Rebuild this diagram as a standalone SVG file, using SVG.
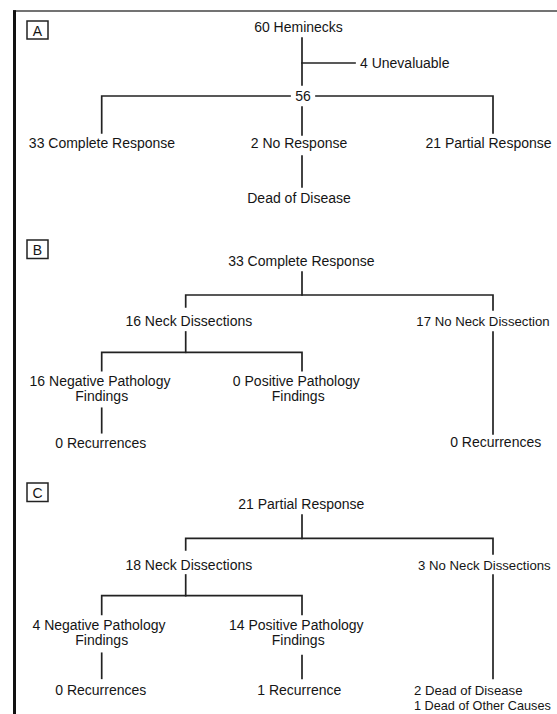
<svg xmlns="http://www.w3.org/2000/svg" width="557" height="714" viewBox="0 0 557 714">
<style>
text{font-family:"Liberation Sans",Arial,sans-serif;font-size:14px;fill:#151515}
.m{text-anchor:middle}
.s{text-anchor:start}
.sm{font-size:13.2px}
.xs{font-size:12.7px}
.ln{stroke:#222;stroke-width:1.7;fill:none;stroke-linecap:square}
.box{fill:#fff;stroke:#222;stroke-width:1.5}
</style>
<rect width="557" height="714" fill="#fff"/>
<g id="frame">
<line x1="13" y1="11" x2="557" y2="11" stroke="#444" stroke-width="1.6"/>
<rect x="13" y="10.2" width="3" height="704" fill="#111"/>
</g>
<g id="panel-labels">
<g id="label-A"><rect class="box" x="27" y="21" width="21" height="18"/><text class="m" x="37.5" y="35.5">A</text></g>
<g id="label-B"><rect class="box" x="27" y="240" width="21" height="18.5"/><text class="m" x="37.5" y="255">B</text></g>
<g id="label-C"><rect class="box" x="27" y="483" width="21" height="18.5"/><text class="m" x="37.5" y="498">C</text></g>
</g>
<g id="connectors">
<!-- A -->
<line class="ln" x1="302" y1="38" x2="302" y2="85"/>
<line class="ln" x1="302" y1="63" x2="355" y2="63"/>
<polyline class="ln" points="101.7,133 101.7,96 290,96"/>
<polyline class="ln" points="316,96 493,96 493,133"/>
<line class="ln" x1="302" y1="107" x2="302" y2="135"/>
<line class="ln" x1="302" y1="156" x2="302" y2="187"/>
<!-- B -->
<line class="ln" x1="302" y1="272" x2="302" y2="295"/>
<polyline class="ln" points="185.7,307 185.7,295 493,295 493,310"/>
<line class="ln" x1="185.7" y1="332" x2="185.7" y2="352.3"/>
<polyline class="ln" points="101.7,370.7 101.7,352.3 302,352.3 302,370.7"/>
<line class="ln" x1="101.7" y1="408.3" x2="101.7" y2="432.7"/>
<line class="ln" x1="493" y1="332" x2="493" y2="434"/>
<!-- C -->
<line class="ln" x1="302" y1="515" x2="302" y2="538.3"/>
<polyline class="ln" points="185.7,550 185.7,538.3 493,538.3 493,554"/>
<line class="ln" x1="185.7" y1="575" x2="185.7" y2="595.7"/>
<polyline class="ln" points="101.7,614.3 101.7,595.7 302,595.7 302,614.3"/>
<line class="ln" x1="101.7" y1="653.3" x2="101.7" y2="678.3"/>
<line class="ln" x1="302" y1="655.7" x2="302" y2="678.3"/>
<line class="ln" x1="493" y1="575" x2="493" y2="678.3"/>
</g>
<g id="A-heminecks"><text class="m" x="298.5" y="32.3">60 Heminecks</text></g>
<g id="A-unevaluable"><text class="s" x="360" y="67.7">4 Unevaluable</text></g>
<g id="A-56"><text class="m" x="303" y="100.8">56</text></g>
<g id="A-complete"><text class="m" x="102" y="148.3">33 Complete Response</text></g>
<g id="A-noresponse"><text class="m" x="299" y="148.3">2 No Response</text></g>
<g id="A-partial"><text class="m" x="488.5" y="148.3">21 Partial Response</text></g>
<g id="A-dead"><text class="m" x="299" y="203">Dead of Disease</text></g>

<g id="B-complete"><text class="m" x="301.3" y="265.5">33 Complete Response</text></g>
<g id="B-neck"><text class="m" x="188.8" y="326">16 Neck Dissections</text></g>
<g id="B-noneck"><text class="s sm" x="416.3" y="326">17 No Neck Dissection</text></g>
<g id="B-negative"><text class="m" x="100" y="385.5">16 Negative Pathology</text><text class="m" x="101.7" y="400.5">Findings</text></g>
<g id="B-positive"><text class="m" x="296.3" y="385.5">0 Positive Pathology</text><text class="m" x="298.2" y="400.5">Findings</text></g>
<g id="B-recur-left"><text class="m" x="100.8" y="447.8">0 Recurrences</text></g>
<g id="B-recur-right"><text class="m" x="495.7" y="447">0 Recurrences</text></g>

<g id="C-partial"><text class="m" x="301.3" y="509">21 Partial Response</text></g>
<g id="C-neck"><text class="m" x="188.8" y="570">18 Neck Dissections</text></g>
<g id="C-noneck"><text class="s sm" x="418" y="570">3 No Neck Dissections</text></g>
<g id="C-negative"><text class="m" x="99" y="629.7">4 Negative Pathology</text><text class="m" x="101.7" y="645">Findings</text></g>
<g id="C-positive"><text class="m" x="296.3" y="630">14 Positive Pathology</text><text class="m" x="298.2" y="645.3">Findings</text></g>
<g id="C-recur-left"><text class="m" x="100.8" y="694.5">0 Recurrences</text></g>
<g id="C-recur-mid"><text class="m" x="299.3" y="694.5">1 Recurrence</text></g>
<g id="C-dead"><text class="s sm" x="414" y="694.5">2 Dead of Disease</text><text class="s xs" x="414" y="709.5">1 Dead of Other Causes</text></g>
</svg>
